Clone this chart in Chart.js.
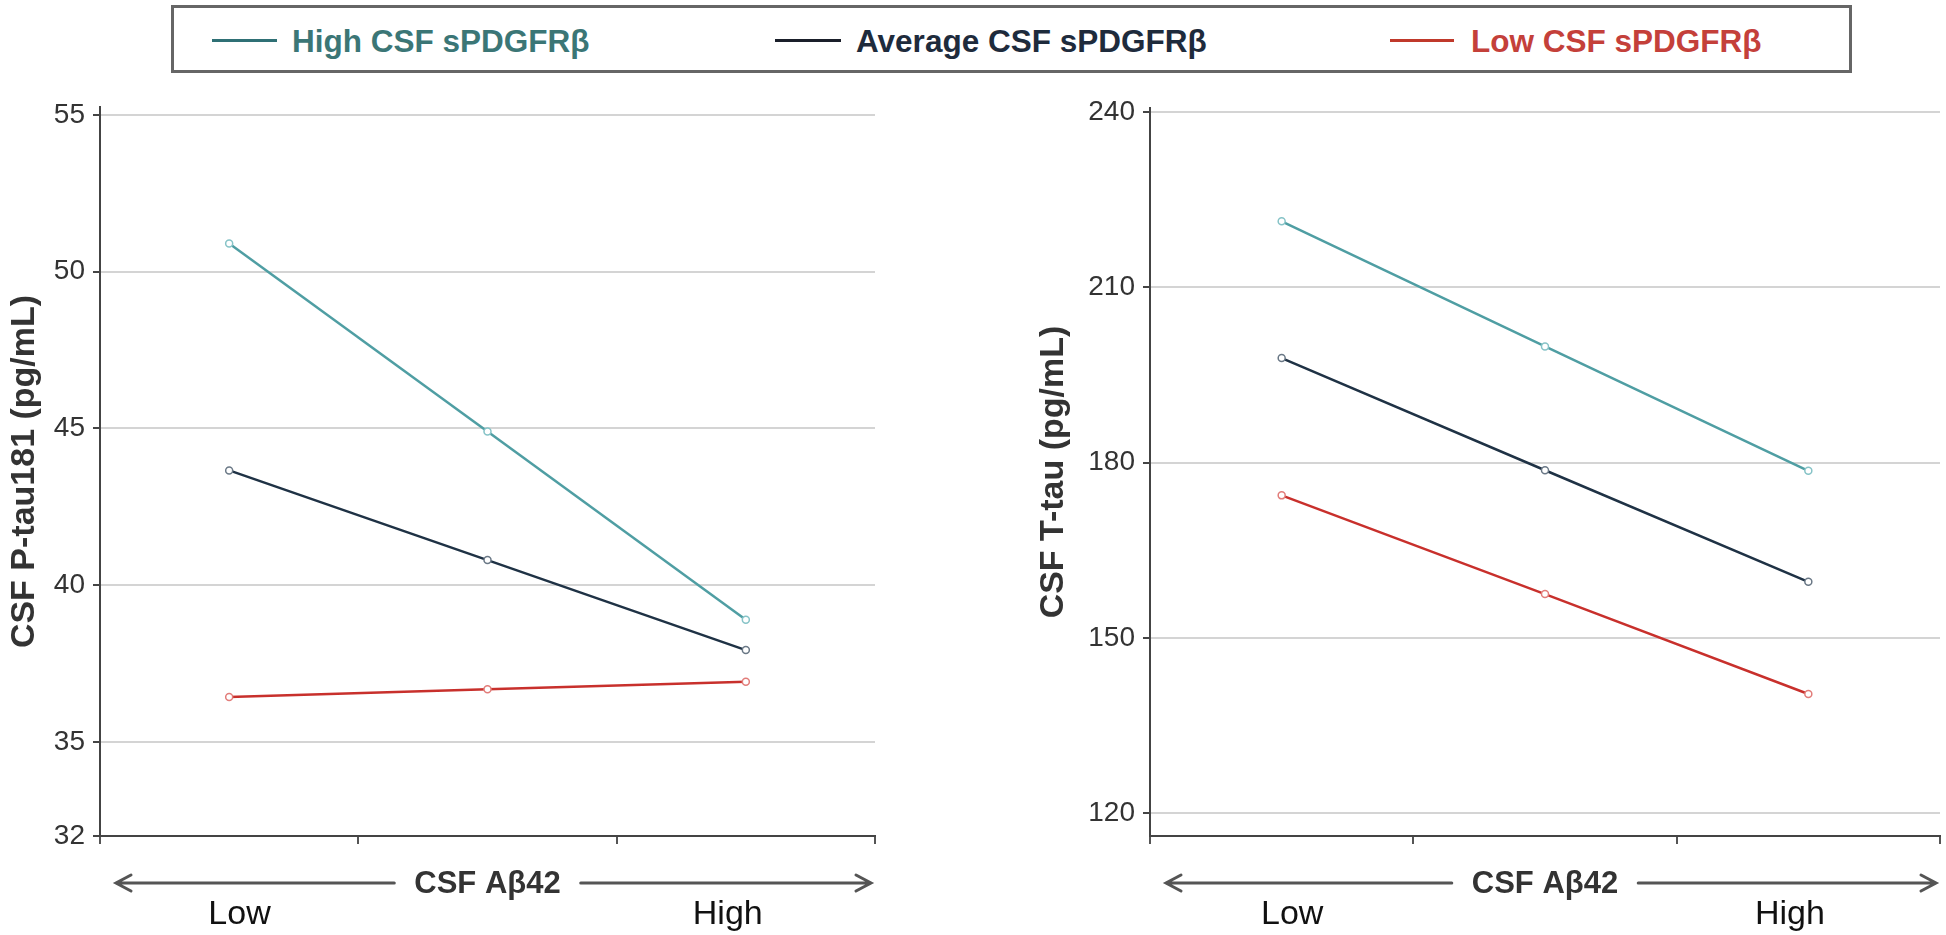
<!DOCTYPE html>
<html>
<head>
<meta charset="utf-8">
<script src="https://cdn.jsdelivr.net/npm/chart.js@4/dist/chart.umd.min.js"></script>
<style>
  html, body { margin: 0; padding: 0; background: #ffffff; }
  body { width: 1946px; height: 935px; position: relative; overflow: hidden; font-family: "Liberation Sans", Arial, sans-serif; }
  .panel { position: absolute; top: 0; height: 935px; }
  #legendBox { position: absolute; left: 171px; top: 5px; width: 1681px; height: 68px; box-sizing: border-box; border: 3px solid #666666; }
  .lgLine { position: absolute; height: 3px; top: 39px; }
  .lgText { position: absolute; top: 22px; font-weight: bold; font-size: 31.5px; line-height: 38px; white-space: nowrap; }
</style>
</head>
<body>
<div id="legendBox"></div>
<div id="legendItems"></div>
<div class="panel" style="left:0px;width:900px;"><canvas id="c1" width="900" height="935"></canvas></div>
<div class="panel" style="left:1000px;width:946px;"><canvas id="c2" width="946" height="935"></canvas></div>
<script>
// ---------- data ----------
const categories = ['Low', 'Average', 'High'];          // CSF Aβ42 level
const seriesNames = ['High CSF sPDGFRβ', 'Average CSF sPDGFRβ', 'Low CSF sPDGFRβ'];
const ptauHigh = [50.9, 44.9, 38.9];
const ptauAvg  = [43.66, 40.8, 37.93];
const ptauLow  = [36.43, 36.68, 36.92];
const ttauHigh = [221.3, 199.9, 178.6];
const ttauAvg  = [197.9, 178.7, 159.6];
const ttauLow  = [174.4, 157.5, 140.4];
const ptauTicks = [32, 35, 40, 45, 50, 55];
const ttauTicks = [120, 150, 180, 210, 240];
const ptauTitle = 'CSF P-tau181 (pg/mL)';
const ttauTitle = 'CSF T-tau (pg/mL)';
const xTitle = 'CSF Aβ42';
const axisEndLabels = ['Low', 'High'];

// ---------- styles ----------
const lineColors   = ['#4f9ea3', '#1f3245', '#c8302c'];
const markerColors = ['#86c3c7', '#6a7886', '#e27d7a'];
const legendLineColors = ['#2f7075', '#1a1f2a', '#c0392b'];
const legendTextColors = ['#3b7676', '#1e2b3c', '#c4403a'];
const FONT = '"Liberation Sans", Arial, sans-serif';

// ---------- HTML legend ----------
(function buildLegend() {
  const lines = [[212, 277, 292], [775, 841, 856], [1390, 1454, 1471]];
  const holder = document.getElementById('legendItems');
  seriesNames.forEach((name, i) => {
    const ln = document.createElement('div');
    ln.className = 'lgLine';
    ln.style.left = lines[i][0] + 'px';
    ln.style.width = (lines[i][1] - lines[i][0]) + 'px';
    ln.style.background = legendLineColors[i];
    holder.appendChild(ln);
    const tx = document.createElement('div');
    tx.className = 'lgText';
    tx.style.left = lines[i][2] + 'px';
    tx.style.color = legendTextColors[i];
    tx.textContent = name;
    holder.appendChild(tx);
  });
})();

// ---------- x-axis decoration (arrow, title, Low/High) ----------
const xAxisDecor = {
  id: 'xAxisDecor',
  afterDraw(chart) {
    const { ctx, chartArea: a } = chart;
    const y = a.bottom + 47;
    const x0 = a.left + 16, x1 = a.right - 4;
    const cx = (a.left + a.right) / 2;
    ctx.save();
    ctx.font = 'bold 31px ' + FONT;
    const tw = ctx.measureText(xTitle).width;
    ctx.strokeStyle = '#555555';
    ctx.lineWidth = 3;
    ctx.lineCap = 'round';
    ctx.beginPath();
    ctx.moveTo(x0, y); ctx.lineTo(cx - tw / 2 - 20, y);
    ctx.moveTo(cx + tw / 2 + 20, y); ctx.lineTo(x1, y);
    // arrow heads
    ctx.moveTo(x0 + 15, y - 8); ctx.lineTo(x0, y); ctx.lineTo(x0 + 15, y + 8);
    ctx.moveTo(x1 - 15, y - 8); ctx.lineTo(x1, y); ctx.lineTo(x1 - 15, y + 8);
    ctx.stroke();
    ctx.fillStyle = '#333333';
    ctx.textAlign = 'center';
    ctx.textBaseline = 'middle';
    ctx.fillText(xTitle, cx, y + 1);
    ctx.font = '34px ' + FONT;
    ctx.fillStyle = '#111111';
    ctx.textBaseline = 'alphabetic';
    const w = a.right - a.left;
    ctx.fillText(axisEndLabels[0], a.left + 0.18 * w, a.bottom + 88);
    ctx.fillText(axisEndLabels[1], a.left + 0.81 * w, a.bottom + 88);
    ctx.restore();
  }
};

function makeChart(id, series, ticks, yMin, yMax, title, opts) {
  const datasets = series.map((vals, i) => ({
    label: seriesNames[i],
    data: vals,
    borderColor: lineColors[i],
    backgroundColor: lineColors[i],
    borderWidth: 2.5,
    pointRadius: 3.5,
    pointBorderWidth: 1.5,
    pointBackgroundColor: '#ffffff',
    pointBorderColor: markerColors[i],
    tension: 0,
    fill: false
  }));
  return new Chart(document.getElementById(id), {
    type: 'line',
    data: { labels: categories, datasets: datasets },
    plugins: [xAxisDecor],
    options: {
      responsive: false,
      animation: false,
      devicePixelRatio: 1,
      layout: { padding: { left: 0, right: opts.padRight, top: opts.padTop, bottom: 0 } },
      plugins: { legend: { display: false }, tooltip: { enabled: false } },
      scales: {
        x: {
          type: 'category',
          offset: true,
          grid: { offset: true, drawOnChartArea: false, drawTicks: true, tickLength: 8, tickColor: '#555555', lineWidth: 2 },
          border: { display: true, color: '#444444', width: 2 },
          ticks: { display: false },
          afterFit(scale) { scale.height = 99; }
        },
        y: {
          min: yMin,
          max: yMax,
          afterBuildTicks(scale) { scale.ticks = ticks.map(v => ({ value: v })); },
          afterFit(scale) { scale.width = opts.axisWidth; },
          grid: { color: '#d4d4d4', lineWidth: 2, tickLength: 7, tickColor: '#444444' },
          border: { display: true, color: '#444444', width: 2 },
          ticks: { color: '#333333', font: { family: FONT, size: 28 }, padding: 8 },
          title: {
            display: true,
            text: title,
            color: '#333333',
            font: { family: FONT, size: 34, weight: 'bold', lineHeight: 1.2 },
            padding: { top: opts.titlePad, bottom: 0 }
          }
        }
      }
    }
  });
}

makeChart('c1', [ptauHigh, ptauAvg, ptauLow], ptauTicks, 32, 55.25, ptauTitle,
  { padRight: 25, padTop: 107, axisWidth: 100, titlePad: 4 });
makeChart('c2', [ttauHigh, ttauAvg, ttauLow], ttauTicks, 116.1, 240.7, ttauTitle,
  { padRight: 6, padTop: 108, axisWidth: 150, titlePad: 33 });
</script>
</body>
</html>
